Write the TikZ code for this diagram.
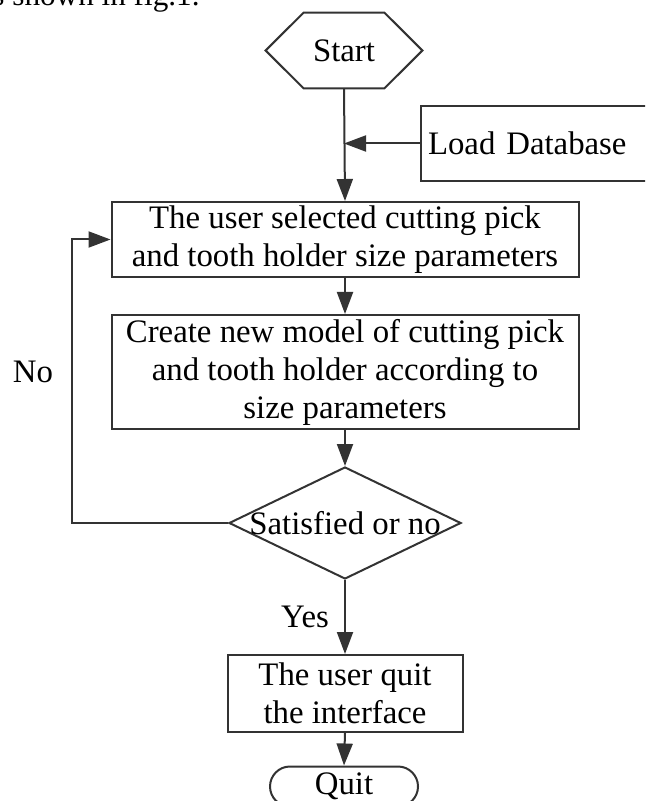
\documentclass[tikz,border=0pt]{standalone}
\usepackage{fontspec}
\setmainfont{Liberation Serif}
\usetikzlibrary{shapes.geometric,shapes.misc,arrows.meta}

\tikzset{
    box/.style={draw=black!80, line width=1pt, align=center, inner sep=0pt},
    flow/.style={draw=black!80, line width=1pt, -{Triangle[length=11pt,width=8pt]}},
}

\begin{document}
\begin{tikzpicture}[x=0.5pt, y=-0.5pt, font=\fontsize{16.4}{19}\selectfont]
        % Frame of the picture
        \path[use as bounding box, clip] (0,0) rectangle (645,801);

        % Line of text above the chart
        \node[anchor=base east, inner sep=0pt, font=\fontsize{15.6}{19}\selectfont] (caption) at (200,6) {s shown in fig.1.};

        % Start
        \node[minimum width=78pt, minimum height=37.5pt, inner sep=0pt] (start) at (344,50.5) {Start};
        \draw[draw=black!80, line width=1pt] (start.west) -- ([xshift=19pt]start.north west)
            -- ([xshift=-19pt]start.north east) -- (start.east)
            -- ([xshift=-19pt]start.south east) -- ([xshift=19pt]start.south west) -- cycle;

        % Load Database
        \node[box, anchor=west, minimum height=37.5pt, text width=109pt, inner xsep=3.5pt, align=left] (load) at (420,143.5) {Load Database};

        % Steps
        \node[box, minimum width=233.5pt, minimum height=37.5pt] (select) at (345,239.5)
            {The user selected cutting pick\\and tooth holder size parameters};
        \node[box, minimum width=233.5pt, minimum height=57pt] (create) at (345,372)
            {Create new model of cutting pick\\and tooth holder according to\\size parameters};

        % Decision
        \node[box, diamond, aspect=2.07, inner xsep=-3pt, minimum width=116pt, minimum height=56pt] (check) at (345,523) {Satisfied or no};

        % Quit steps
        \node[box, minimum width=117.5pt, minimum height=38.5pt] (leave) at (345,693.5)
            {The user quit\\the interface};
        \node[box, rounded rectangle, minimum width=74pt, minimum height=20pt] (quit) at (344,786.5) {Quit};

        % Labels
        \node (no) at (33,372) {No};
        \node (yes) at (305,617) {Yes};

        % Connectors
        \coordinate (merge) at (start.south |- load.west);
        \draw[flow] (start.south) -- (select.north);
        \draw[flow] (load.west) -- (merge);
        \draw[flow] (select.south) -- (create.north);
        \draw[flow] (create.south) -- (check.north);
        \draw[flow] (check.south) -- (leave.north);
        \draw[flow] (leave.south) -- (quit.north);
        \draw[flow] (check.west) -- ++(-156,0) |- (select.west);

\end{tikzpicture}
\end{document}
